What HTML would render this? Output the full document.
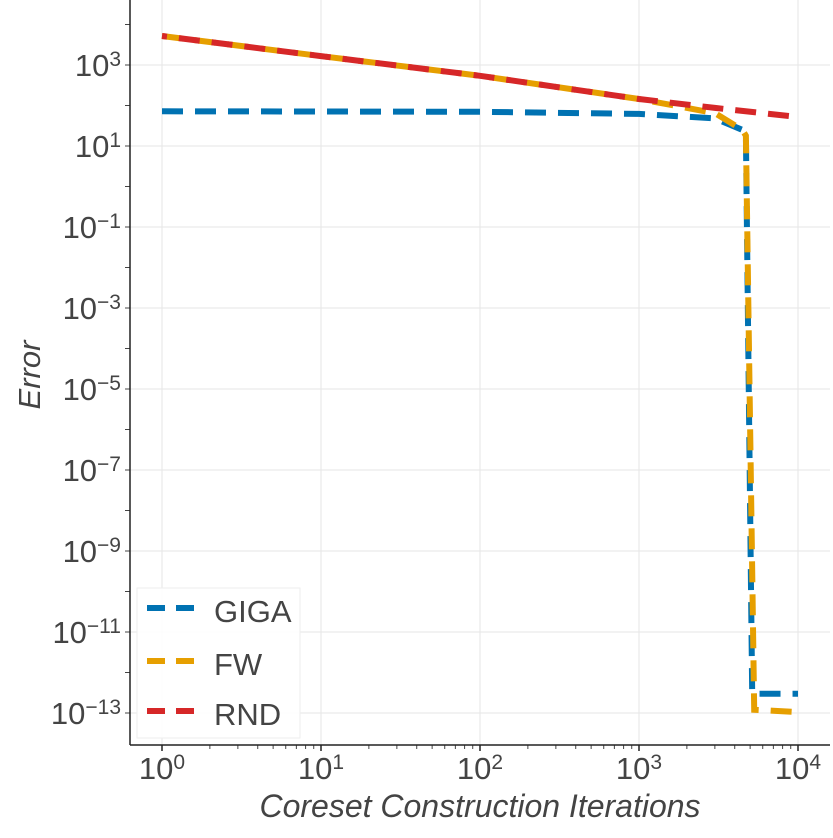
<!DOCTYPE html>
<html><head><meta charset="utf-8"><style>
body{margin:0;background:#fff}
svg{font-family:"Liberation Sans",sans-serif}
</style></head><body>
<svg id="chart" width="833" height="833" viewBox="0 0 833 833" xmlns="http://www.w3.org/2000/svg">
<g id="grid"></g>
<g id="series"></g>
<g id="axes"></g>
<text x="40" y="375" transform="rotate(-90 40 375)" font-size="31" font-style="italic" fill="#444" text-anchor="middle">Error</text>
<text x="480" y="817" font-size="32" font-style="italic" fill="#444" text-anchor="middle">Coreset Construction Iterations</text>
<g>
<rect x="137" y="588" width="163" height="150" fill="#fff" fill-opacity="0.85" stroke="#eee"/>
<line x1="147" y1="608" x2="205" y2="608" stroke="#0072b2" stroke-width="6" stroke-dasharray="18,11"/>
<text x="214" y="622" font-size="31" fill="#444">GIGA</text>
<line x1="147" y1="661" x2="205" y2="661" stroke="#e69f00" stroke-width="6" stroke-dasharray="18,11"/>
<text x="214" y="675" font-size="31" fill="#444">FW</text>
<line x1="147" y1="711" x2="205" y2="711" stroke="#d62728" stroke-width="6" stroke-dasharray="18,11"/>
<text x="214" y="725" font-size="31" fill="#444">RND</text>
</g>
</svg>
<script>
const xTickExps=[0,1,2,3,4];
const yTickExps=[3,1,-1,-3,-5,-7,-9,-11,-13];
const gigaX=[1,10,100,1000,3000,4470,4700,5150,10000];
const gigaY=[72,71,70,62,48,25,18,3e-13,3e-13];
const fwX=[1,10,100,1000,3000,4470,4700,5300,10000];
const fwY=[5200,1660,540,145,65,25,18,1.2e-13,1.05e-13];
const rndX=[1,10,100,1000,2000,3000,10000];
const rndY=[5200,1660,540,145,105,87,52];

const NS="http://www.w3.org/2000/svg";
function xs(v){return 162+159*Math.log10(v);}
function ys(v){return 65+40.5*(3-Math.log10(v));}
function mk(tag,attrs,parent){const e=document.createElementNS(NS,tag);for(const k in attrs)e.setAttribute(k,attrs[k]);parent.appendChild(e);return e;}
const grid=document.getElementById('grid'),axes=document.getElementById('axes'),ser=document.getElementById('series');
const L=130,R=830,T=0,B=745;
xTickExps.forEach(function(e){
  const x=xs(Math.pow(10,e));
  const g=mk('line',{x1:x,x2:x,y1:T,y2:B,stroke:'#e6e6e6','stroke-width':1},grid);
  
  
  const t=mk('text',{x:x,y:779,'font-size':31,fill:'#444','text-anchor':'middle'},axes);
  
  
  t.textContent='10';
  const s=mk('tspan',{dy:-10,'font-size':21},t);s.textContent=String(e);
  const tk=mk('line',{x1:x,x2:x,y1:B,y2:B+6,stroke:'#222','stroke-width':1.5},axes);
  
  
});
for(let e=0;e<4;e++)for(let m=2;m<10;m++){
  const x=xs(m*Math.pow(10,e));
  const tk=mk('line',{x1:x,x2:x,y1:B,y2:B+4,stroke:'#444','stroke-width':1},axes);
  
  
}
yTickExps.forEach(function(e){
  const y=ys(Math.pow(10,e));
  const g=mk('line',{x1:L,x2:R,y1:y,y2:y,stroke:'#e6e6e6','stroke-width':1},grid);
  
  
  const t=mk('text',{x:121,y:y+11,'font-size':31,fill:'#444','text-anchor':'end'},axes);
  
  
  t.textContent='10';
  const s=mk('tspan',{dy:-10,'font-size':21},t);s.textContent=(e<0?'\u2212'+(-e):String(e));
});
for(let e=-14;e<=4;e++){
  const y=ys(Math.pow(10,e));
  if(y<T||y>B)continue;
  const tk=mk('line',{x1:L-5,x2:L,y1:y,y2:y,stroke:'#444','stroke-width':1},axes);
  
  
}
const ax1=mk('line',{x1:L,x2:L,y1:T,y2:B,stroke:'#222','stroke-width':1.5},axes);


const ax2=mk('line',{x1:L,x2:R,y1:B,y2:B,stroke:'#222','stroke-width':1.5},axes);


function line(X,Y,color,name,off){
  const d=X.map(function(v,i){return (i?'L':'M')+xs(v).toFixed(1)+','+ys(Y[i]).toFixed(1);}).join(' ');
  const p=mk('path',{d:d,fill:'none',stroke:color,'stroke-width':6,'stroke-dasharray':'21,12','stroke-dashoffset':off},ser);
  
  
}
line(gigaX,gigaY,'#0072b2','giga-line',0);
line(fwX,fwY,'#e69f00','fw-line',0);
line(rndX,rndY,'#d62728','rnd-line',-17);
</script>
</body></html>
